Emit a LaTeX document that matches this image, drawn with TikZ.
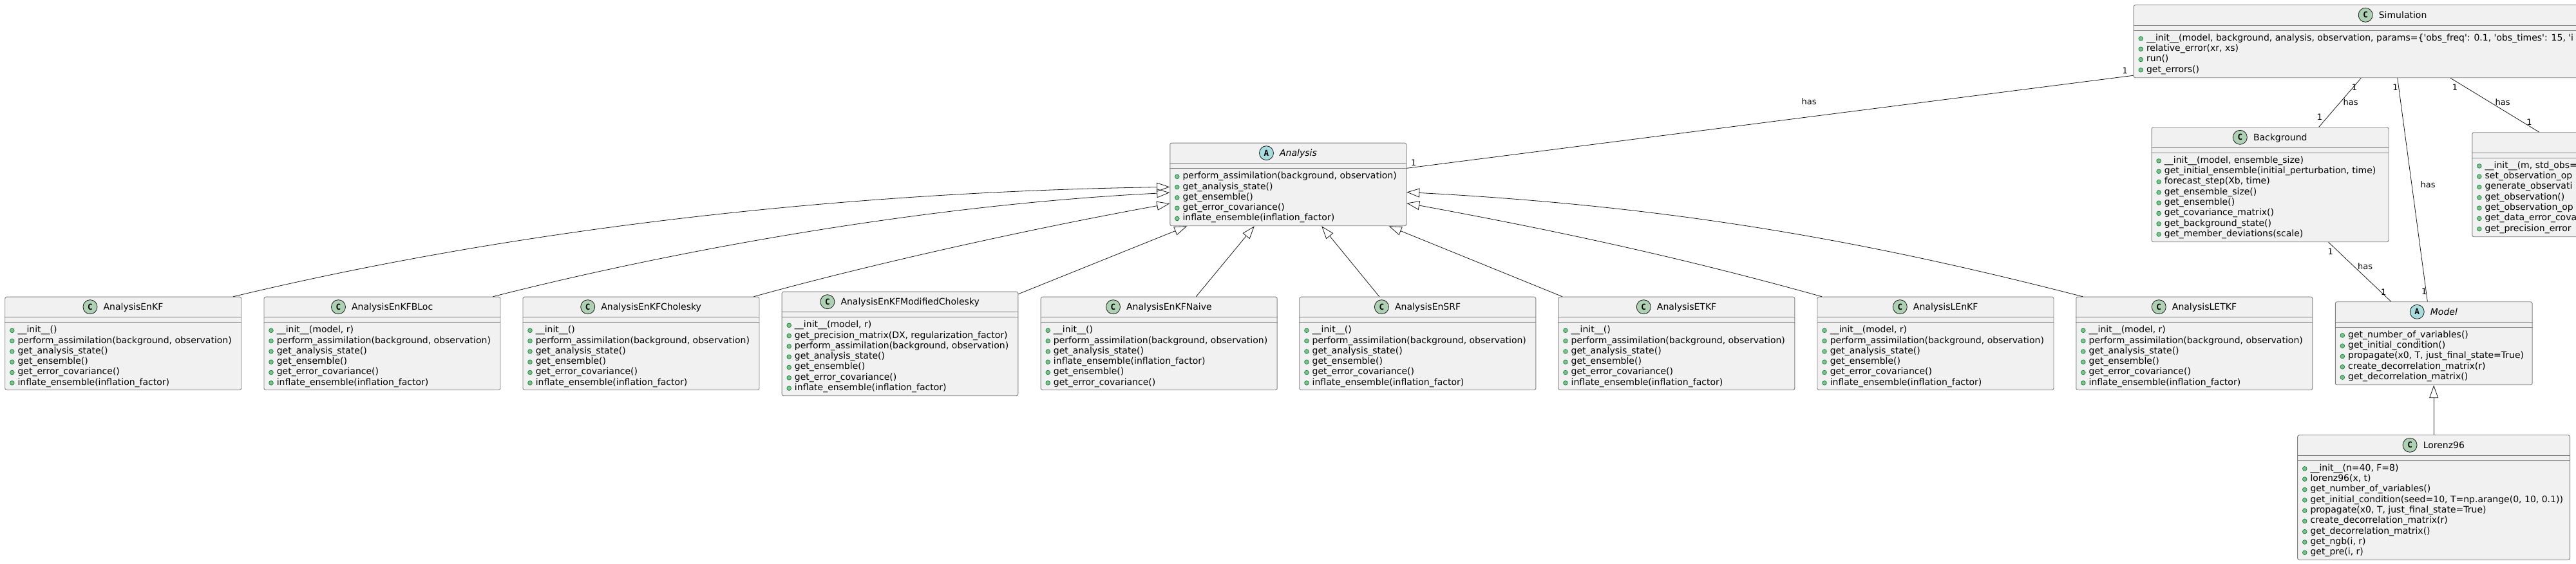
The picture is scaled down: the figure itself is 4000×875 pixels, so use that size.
\documentclass[tikz,border=0pt]{standalone}
\usepackage{fontspec}
\setmainfont{DejaVu Sans}
\newfontfamily\badgefont{DejaVu Sans Mono}
\usetikzlibrary{calc,arrows.meta}
\definecolor{boxfill}{HTML}{F1F1F1}
\definecolor{boxline}{HTML}{808080}
\definecolor{lineink}{HTML}{181818}
\definecolor{classgreen}{HTML}{ADD1B2}
\definecolor{abstractblue}{HTML}{A9DCDF}
\definecolor{dotfill}{HTML}{84BE84}
\definecolor{dotline}{HTML}{038048}
\newcommand{\q}{\textquotesingle}
\newcommand{\plainmembers}{\_\_init\_\_(),{perform\_assimilation(background, observation)},get\_analysis\_state(),get\_ensemble(),get\_error\_covariance(),inflate\_ensemble(inflation\_factor)}
\newcommand{\locmembers}{{\_\_init\_\_(model, r)},{perform\_assimilation(background, observation)},get\_analysis\_state(),get\_ensemble(),get\_error\_covariance(),inflate\_ensemble(inflation\_factor)}
% name, left, top, width, height, members
\newcommand{\classframe}[6]{
  \node[classbody,minimum width=#4*0.75pt,minimum height=#5*0.75pt] (#1) at (#2,#3) {};
  \draw[classrule] ($(#1.north west)+(0,32)$) -- ($(#1.north east)+(0,32)$);
  \draw[classrule] ($(#1.north west)+(0,40)$) -- ($(#1.north east)+(0,40)$);
  \foreach \m [count=\i] in #6 {
    \node[memberdot] (#1d\i) at ($(#1.north west)+(11.5,{52.6+16.3*(\i-1)})$) {};
    \node[membertext] (#1m\i) at ($(#1.north west)+(20,{56+16.3*(\i-1)})$) {\m};
  }
}
% name, letter, title
\newcommand{\classhead}[3]{
  \node[classtitle] (#1title) at ($(#1.north)+(15.7,21)$) {#3};
  \node[badge#2] (#1badge) at ($(#1title.base west)+(-20.4,-5)$) {#2};
}
\begin{document}
\begin{tikzpicture}[x=0.75pt,y=-0.75pt]
  \tikzstyle{classbody} = [rectangle, draw=boxline, line width=0.7pt, fill=boxfill, rounded corners=2pt, anchor=north west, inner sep=0pt];
  \tikzstyle{classrule} = [draw=boxline, line width=0.7pt];
  \tikzstyle{memberdot} = [circle, draw=dotline, line width=0.5pt, fill=dotfill, inner sep=0pt, minimum size=5pt];
  \tikzstyle{membertext} = [anchor=base west, inner sep=0pt, font=\fontsize{10.5}{12}\selectfont];
  \tikzstyle{classtitle} = [anchor=base, inner sep=0pt, font=\fontsize{10.5}{12}\selectfont];
  \tikzstyle{badgeC} = [circle, draw=lineink, line width=0.6pt, fill=classgreen, inner sep=0pt, minimum size=16.5pt, font=\badgefont\bfseries\fontsize{9.5}{10}\selectfont];
  \tikzstyle{badgeA} = [badgeC, fill=abstractblue];
  \tikzstyle{edgelabel} = [inner sep=0pt, font=\fontsize{9.75}{11}\selectfont];
  \tikzstyle{assoc} = [draw=lineink, line width=0.6pt];
  \tikzstyle{inherit} = [assoc, -{Triangle[open,length=15pt,width=10.5pt]}];
  \path[clip,use as bounding box] (0,0) rectangle (4000,875);

  \classframe{analysis}{1816.3}{221.7}{367}{128.6}{{{perform\_assimilation(background, observation)},get\_analysis\_state(),get\_ensemble(),get\_error\_covariance(),inflate\_ensemble(inflation\_factor)}}
  \classhead{analysis}{A}{\itshape Analysis}

  \classframe{enkf}{7.3}{460.7}{367}{144.6}{\plainmembers}
  \classhead{enkf}{C}{AnalysisEnKF}
  \classframe{bloc}{409.5}{460.7}{367}{144.6}{\locmembers}
  \classhead{bloc}{C}{AnalysisEnKFBLoc}
  \classframe{cholesky}{811.5}{460.7}{367}{144.6}{\plainmembers}
  \classhead{cholesky}{C}{AnalysisEnKFCholesky}
  \classframe{modified}{1213.7}{452.7}{366.6}{161.6}{{{\_\_init\_\_(model, r)},{get\_precision\_matrix(DX, regularization\_factor)},{perform\_assimilation(background, observation)},get\_analysis\_state(),get\_ensemble(),get\_error\_covariance(),inflate\_ensemble(inflation\_factor)}}
  \classhead{modified}{C}{AnalysisEnKFModifiedCholesky}
  \classframe{naive}{1615.7}{460.7}{367}{144.6}{{\_\_init\_\_(),{perform\_assimilation(background, observation)},get\_analysis\_state(),inflate\_ensemble(inflation\_factor),get\_ensemble(),get\_error\_covariance()}}
  \classhead{naive}{C}{AnalysisEnKFNaive}
  \classframe{srf}{2017.4}{460.7}{367}{144.6}{\plainmembers}
  \classhead{srf}{C}{AnalysisEnSRF}
  \classframe{etkf}{2419.4}{460.7}{367}{144.6}{\plainmembers}
  \classhead{etkf}{C}{AnalysisETKF}
  \classframe{lenkf}{2821.5}{460.7}{367}{144.6}{\locmembers}
  \classhead{lenkf}{C}{AnalysisLEnKF}
  \classframe{letkf}{3223.3}{460.7}{367}{144.6}{\locmembers}
  \classhead{letkf}{C}{AnalysisLETKF}

  \classframe{simulation}{3312.7}{7.3}{804.4}{113}{{{\_\_init\_\_(model, background, analysis, observation, params=\{\q obs\_freq\q: 0.1, \q obs\_times\q: 15, \q i},{relative\_error(xr, xs)},run(),get\_errors()}}
  \classhead{simulation}{C}{Simulation}
  \classframe{background}{3340.6}{197.3}{367.9}{178}{{{\_\_init\_\_(model, ensemble\_size)},{get\_initial\_ensemble(initial\_perturbation, time)},{forecast\_step(Xb, time)},get\_ensemble\_size(),get\_ensemble(),get\_covariance\_matrix(),get\_background\_state(),get\_member\_deviations(scale)}}
  \classhead{background}{C}{Background}
  % box runs off the page, its title is not visible
  \classframe{observation}{3838.3}{205.3}{300}{162}{{{\_\_init\_\_(m, std\_obs=},set\_observation\_op,generate\_observati,get\_observation(),get\_observation\_op,get\_data\_error\_cova,get\_precision\_error}}
  \classframe{model}{3625.8}{468.3}{305.8}{129}{{get\_number\_of\_variables(),get\_initial\_condition(),{propagate(x0, T, just\_final\_state=True)},create\_decorrelation\_matrix(r),get\_decorrelation\_matrix()}}
  \classhead{model}{A}{\itshape Model}
  \classframe{lorenz}{3567.2}{675.3}{422.9}{194}{{{\_\_init\_\_(n=40, F=8)},{lorenz96(x, t)},get\_number\_of\_variables(),{get\_initial\_condition(seed=10, T=np.arange(0, 10, 0.1))},{propagate(x0, T, just\_final\_state=True)},create\_decorrelation\_matrix(r),get\_decorrelation\_matrix(),{get\_ngb(i, r)},{get\_pre(i, r)}}}
  \classhead{lorenz}{C}{Lorenz96}

  % inheritance
  \draw[inherit] ($(enkf.north)+(171,0)$) .. controls +(438,-105) and +(-516,8) .. ($(analysis.west)+(0,3.9)$);
  \draw[inherit] ($(bloc.north)+(172,0)$) .. controls +(235,-60) and +(-416,21) .. ($(analysis.west)+(0,12.7)$);
  \draw[inherit] ($(cholesky.north)+(175,0)$) .. controls +(180,-50) and +(-216,39) .. ($(analysis.west)+(0,29.7)$);
  \draw[inherit] ($(modified.north east)+(0,4)$) -- ($(analysis.south west)+(27,0)$);
  \draw[inherit] ($(naive.north)+(57.6,0)$) -- ($(analysis.south)+(-52.5,0)$);
  \draw[inherit] ($(srf.north)+(-59.6,0)$) -- ($(analysis.south)+(51.9,0)$);
  \draw[inherit] ($(etkf.north west)+(6.6,0)$) -- ($(analysis.south east)+(-27.6,0)$);
  \draw[inherit] ($(lenkf.north west)+(7.4,0)$) .. controls +(-229,-64) and +(217,40) .. ($(analysis.east)+(0,29)$);
  \draw[inherit] ($(letkf.north west)+(10.7,0)$) .. controls +(-334,-86) and +(417,22) .. ($(analysis.east)+(0,12)$);
  \draw[inherit] (lorenz.north -| model.south) -- (model.south);

  % associations
  \draw[assoc] ($(simulation.south west)+(0,-4)$) -- ($(analysis.north east)+(0,39.6)$);
  \draw[assoc] ($(simulation.south west)+(353.6,0)$) -- ($(background.north west)+(260.1,0)$);
  \draw[assoc] ($(simulation.south west)+(410,0)$) -- ($(model.north west)+(143.5,0)$);
  \draw[assoc] ($(simulation.south west)+(492.3,0)$) -- ($(observation.north west)+(104.6,0)$);
  \draw[assoc] ($(background.south west)+(275,0)$) -- ($(model.north west)+(86.9,0)$);

  \node[edgelabel] (simanalysishas) at (2809,158) {has};
  \node[edgelabel] (simanalysisone) at (3299.8,109.7) {1};
  \node[edgelabel] (analysissimone) at (2195,252.7) {1};
  \node[edgelabel] (simbackone) at (3656,135.7) {1};
  \node[edgelabel] (simbackhas) at (3650,159) {has};
  \node[edgelabel] (backsimone) at (3602,181.7) {1};
  \node[edgelabel] (simmodelone) at (3719.4,135.7) {1};
  \node[edgelabel] (simmodelhas) at (3770,286.7) {has};
  \node[edgelabel] (modelsimone) at (3764.3,452.7) {1};
  \node[edgelabel] (simobsone) at (3812,135.7) {1};
  \node[edgelabel] (simobshas) at (3886,159) {has};
  \node[edgelabel] (obssimone) at (3927.5,189.3) {1};
  \node[edgelabel] (backmodelone) at (3618.8,390.7) {1};
  \node[edgelabel] (backmodelhas) at (3672.5,413.7) {has};
  \node[edgelabel] (modelbackone) at (3701.2,453.7) {1};
\end{tikzpicture}
\end{document}
